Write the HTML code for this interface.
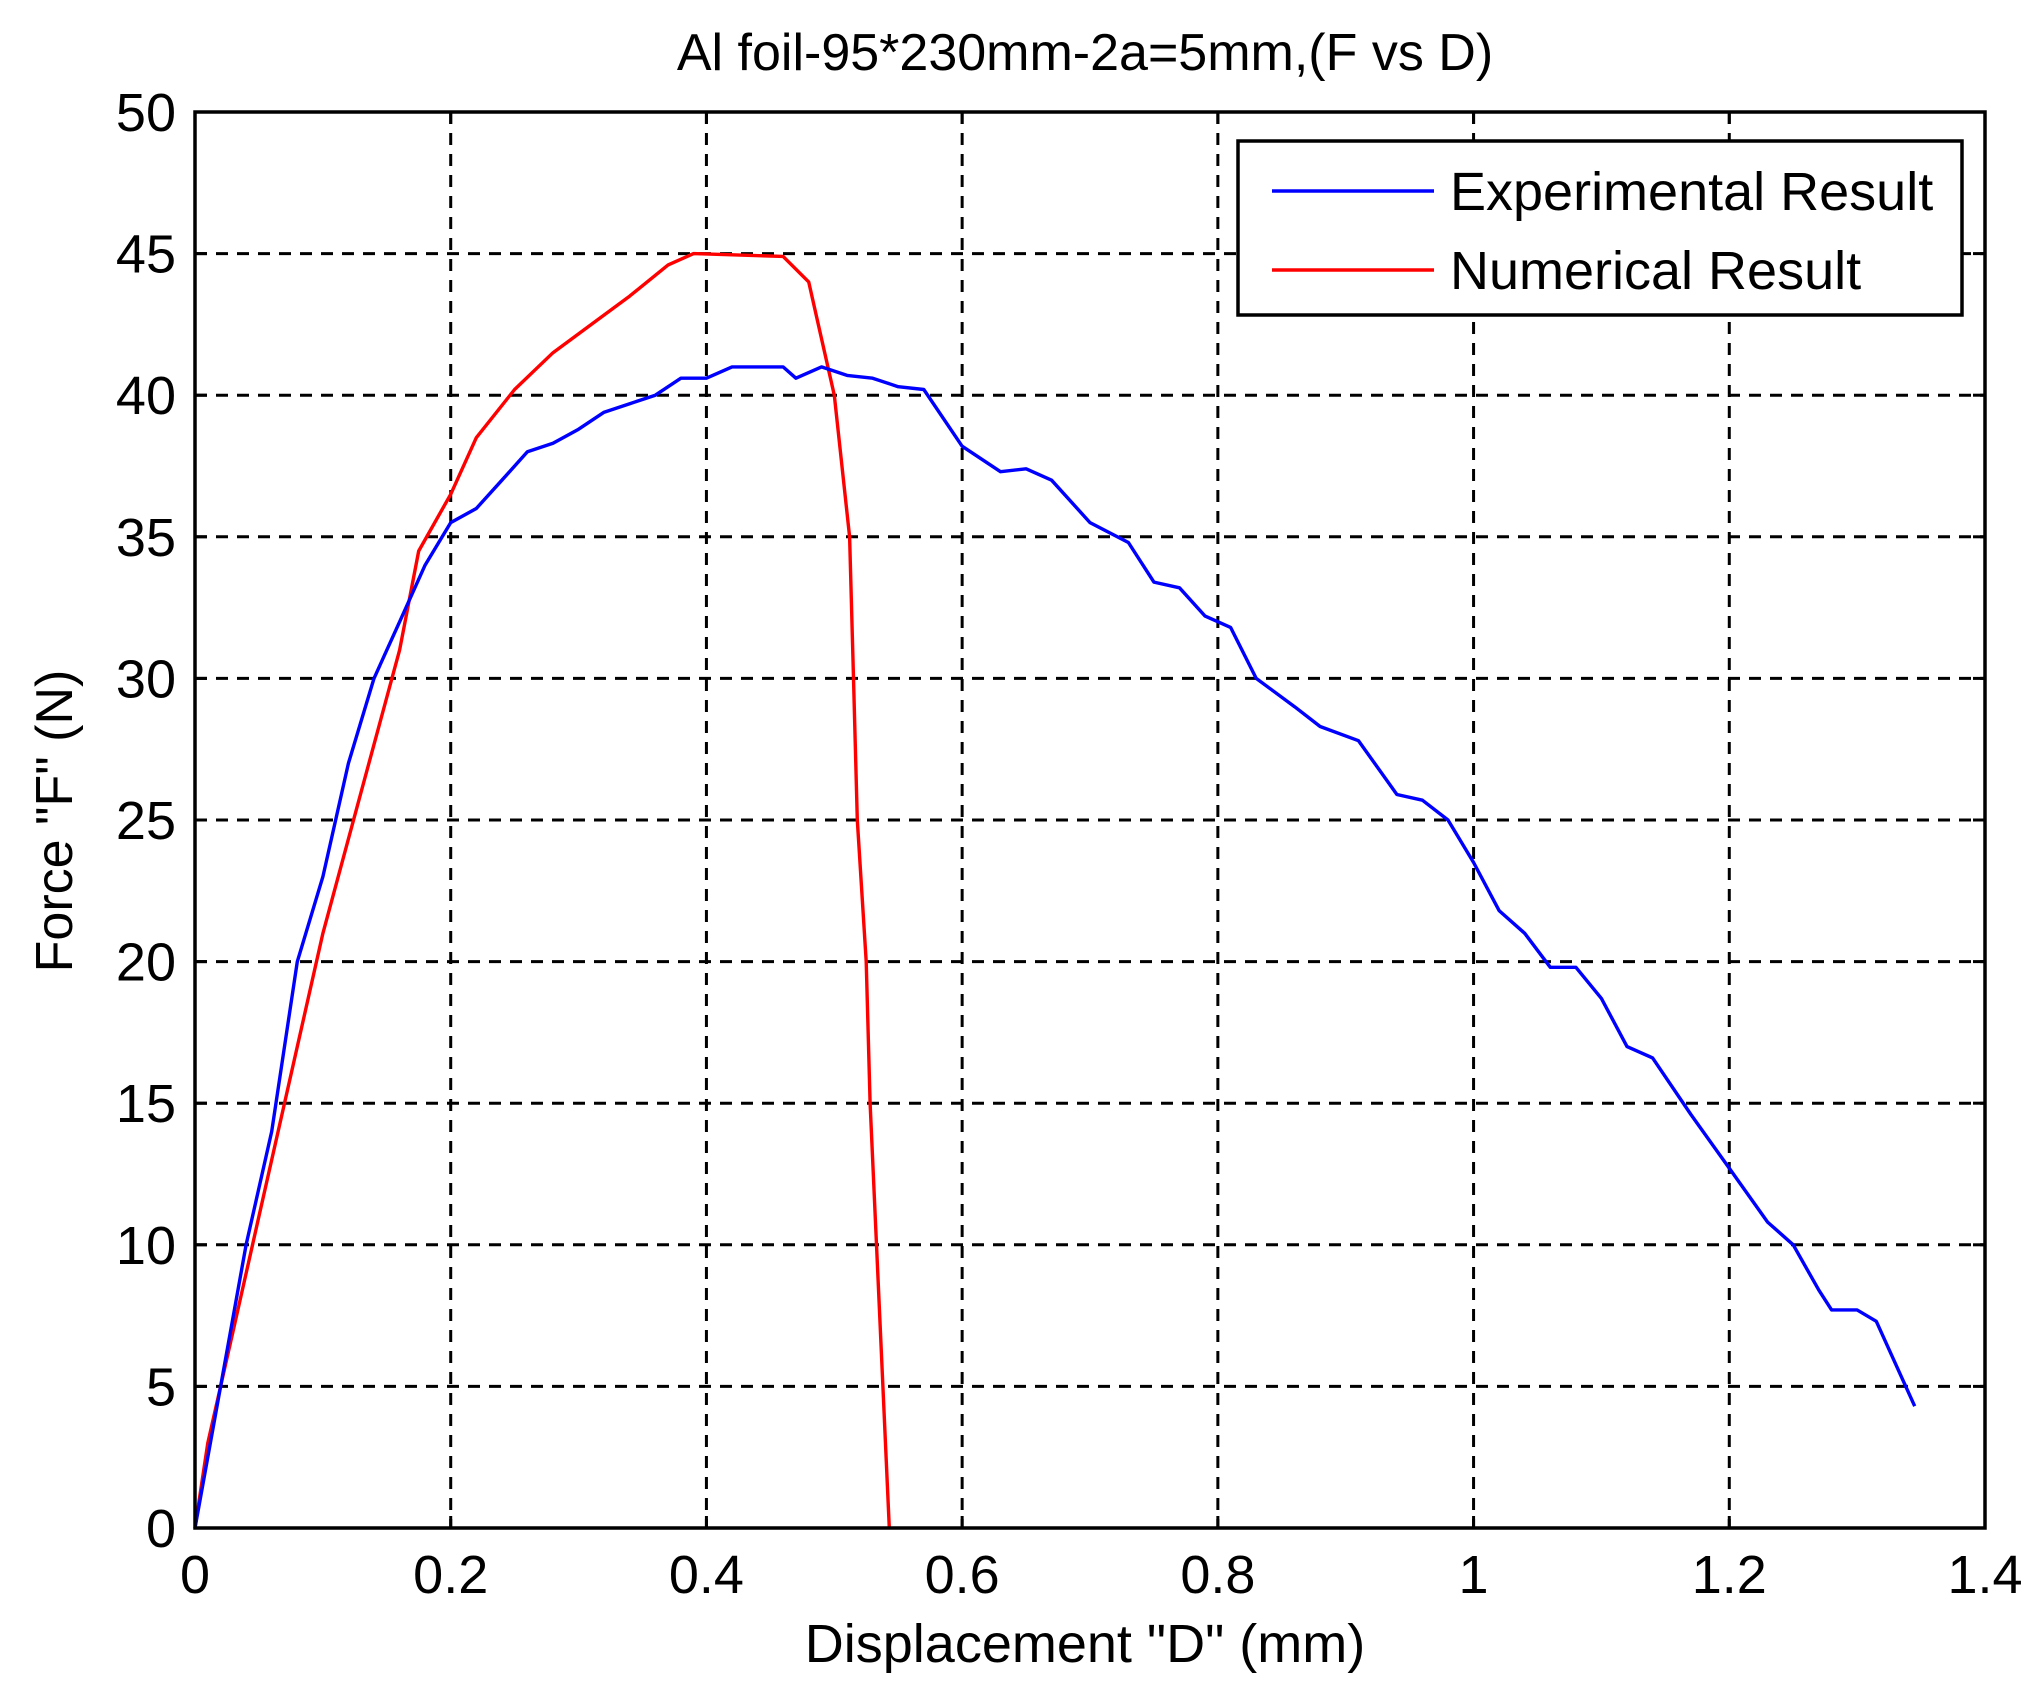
<!DOCTYPE html>
<html><head><meta charset="utf-8"><style>
html,body{margin:0;padding:0;background:#fff;}
svg{display:block;font-family:"Liberation Sans",sans-serif;}
</style></head><body>
<svg id="s" width="2044" height="1696" xmlns="http://www.w3.org/2000/svg">
<rect width="2044" height="1696" fill="#fff"/>
<g id="grid" stroke="#000" stroke-width="3" stroke-dasharray="12,9" fill="none"></g>
<g id="ticks" stroke="#000" stroke-width="3"></g>
<g id="labels" font-size="54" fill="#000"></g>
<polyline id="red" fill="none" stroke="#ff0000" stroke-width="3.4" stroke-linejoin="round"/>
<polyline id="blue" fill="none" stroke="#0000ff" stroke-width="3.4" stroke-linejoin="round"/>
<rect x="195" y="112" width="1790" height="1416" fill="none" stroke="#000" stroke-width="3.5"/>
<rect x="1238" y="141" width="724" height="174" fill="#fff" stroke="#000" stroke-width="3.5"/>
<line x1="1272" y1="191" x2="1434" y2="191" stroke="#0000ff" stroke-width="3.4"/>
<line x1="1272" y1="270" x2="1434" y2="270" stroke="#ff0000" stroke-width="3.4"/>
<text x="1450" y="210" font-size="54">Experimental Result</text>
<text x="1450" y="289" font-size="54">Numerical Result</text>
<text x="1085" y="70" font-size="52" text-anchor="middle">Al foil-95*230mm-2a=5mm,(F vs D)</text>
<text x="1085" y="1662" font-size="54" text-anchor="middle">Displacement "D" (mm)</text>
<text transform="translate(72,821) rotate(-90)" font-size="52" text-anchor="middle">Force "F" (N)</text>
</svg>
<script>
var X=function(d){return 195+d*1278.57}, Y=function(f){return 1528-f*28.32};
var ns="http://www.w3.org/2000/svg";
var g=document.getElementById('grid'),t=document.getElementById('ticks'),l=document.getElementById('labels');
function el(p,tag,a,txt){var e=document.createElementNS(ns,tag);for(var k in a)e.setAttribute(k,a[k]);if(txt!==undefined)e.textContent=txt;p.appendChild(e);}
var xl=['0','0.2','0.4','0.6','0.8','1','1.2','1.4'];
for(var i=0;i<=7;i++){var x=X(i*0.2);
 if(i>0&&i<7)el(g,'line',{x1:x,y1:112,x2:x,y2:1528});
 el(t,'line',{x1:x,y1:1528,x2:x,y2:1516});el(t,'line',{x1:x,y1:112,x2:x,y2:124});
 el(l,'text',{x:x,y:1593,'text-anchor':'middle'},xl[i]);}
for(var j=0;j<=10;j++){var y=Y(j*5);
 if(j>0&&j<10)el(g,'line',{x1:195,y1:y,x2:1985,y2:y});
 el(t,'line',{x1:195,y1:y,x2:207,y2:y});el(t,'line',{x1:1985,y1:y,x2:1973,y2:y});
 el(l,'text',{x:176,y:y+19,'text-anchor':'end'},String(j*5));}
var blue=[[0,0],[0.02,5],[0.04,10],[0.06,14],[0.08,20],[0.1,23],[0.12,27],[0.14,30],[0.16,32],[0.18,34],[0.2,35.5],[0.22,36],[0.24,37],[0.26,38],[0.28,38.3],[0.3,38.8],[0.32,39.4],[0.34,39.7],[0.36,40],[0.38,40.6],[0.4,40.6],[0.42,41],[0.44,41],[0.46,41],[0.47,40.6],[0.49,41],[0.51,40.7],[0.53,40.6],[0.55,40.3],[0.57,40.2],[0.6,38.2],[0.63,37.3],[0.65,37.4],[0.67,37],[0.7,35.5],[0.73,34.8],[0.75,33.4],[0.77,33.2],[0.79,32.2],[0.81,31.8],[0.83,30],[0.86,29],[0.88,28.3],[0.91,27.8],[0.94,25.9],[0.96,25.7],[0.98,25],[1,23.5],[1.02,21.8],[1.04,21],[1.06,19.8],[1.08,19.8],[1.1,18.7],[1.12,17],[1.14,16.6],[1.17,14.6],[1.2,12.7],[1.23,10.8],[1.25,10],[1.27,8.4],[1.28,7.7],[1.3,7.7],[1.315,7.3],[1.345,4.3]];
var red=[[0,0],[0.01,3],[0.03,7],[0.05,11],[0.07,15],[0.1,21],[0.13,26],[0.16,31],[0.175,34.5],[0.2,36.5],[0.22,38.5],[0.25,40.2],[0.28,41.5],[0.31,42.5],[0.34,43.5],[0.37,44.6],[0.39,45],[0.46,44.9],[0.48,44],[0.49,42],[0.5,40],[0.512,35],[0.515,30],[0.518,25],[0.525,20],[0.528,15],[0.533,10],[0.538,5],[0.543,0]];
function pts(a){return a.map(function(p){return X(p[0]).toFixed(1)+','+Y(p[1]).toFixed(1)}).join(' ');}
document.getElementById('blue').setAttribute('points',pts(blue));
document.getElementById('red').setAttribute('points',pts(red));
</script>
</body></html>
